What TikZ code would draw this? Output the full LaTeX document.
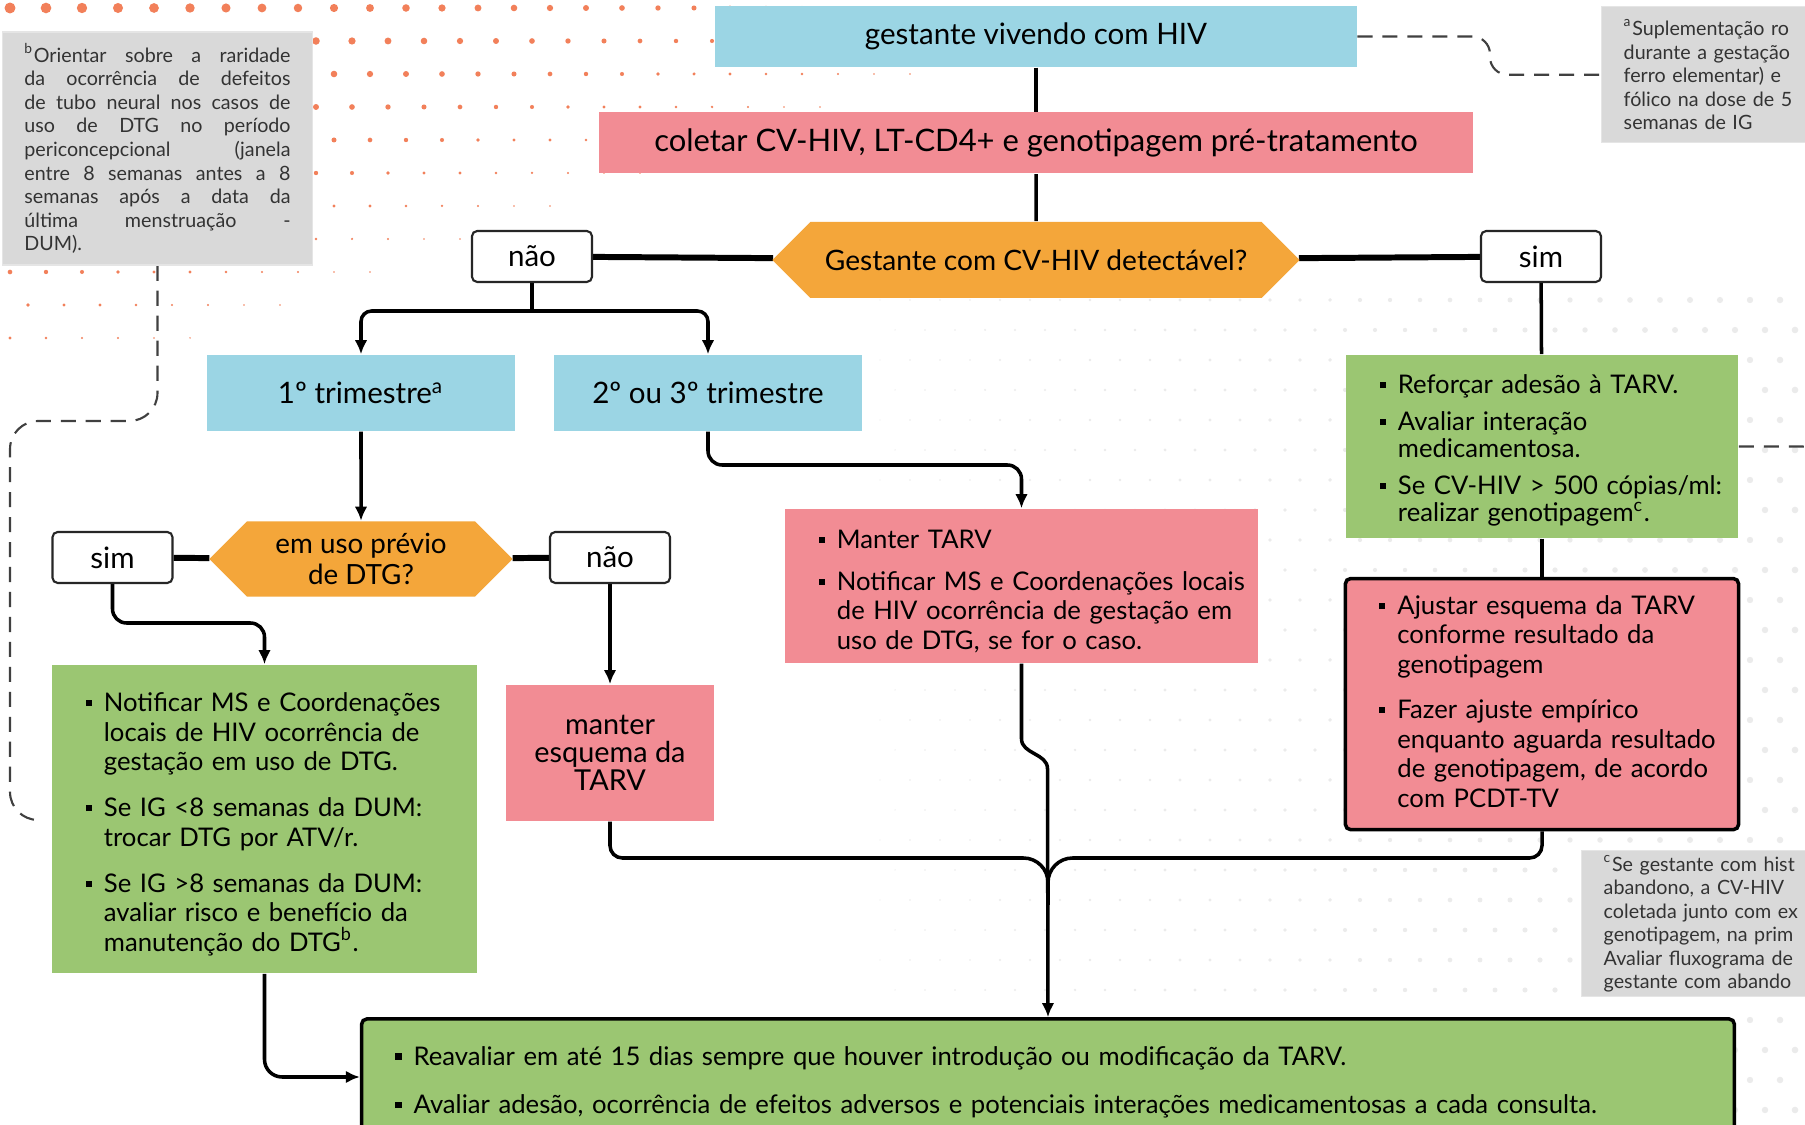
\documentclass[tikz,border=0pt]{standalone}
\usepackage{fontspec}
\setmainfont{Lato}
\usepackage{enumitem}
\usetikzlibrary{
arrows.meta,
backgrounds,
calc,
positioning,
shapes.symbols
}

\definecolor{fluxblue}{RGB}{155,213,228}
\definecolor{fluxpink}{RGB}{242,140,148}
\definecolor{fluxorange}{RGB}{244,166,58}
\definecolor{fluxgreen}{RGB}{155,198,114}
\definecolor{notegray}{RGB}{217,217,217}
\definecolor{dotorange}{RGB}{242,128,90}

\newcommand{\fluxhead}{\fontsize{8.4}{9.2}\selectfont}
\newcommand{\fluxbody}{\fontsize{7.3}{8.4}\selectfont}
\newcommand{\fluxnote}{\fontsize{5.6}{6.7}\selectfont}

\setlist[itemize]{label=\rule[0.22em]{0.24em}{0.24em},leftmargin=0.37cm,labelsep=0.12cm,topsep=0pt,partopsep=0pt,parsep=0pt,itemsep=4pt}

\tikzset{>={Latex[length=4pt,width=3.6pt]}}
\tikzset{
  blubox/.style={fill=fluxblue,font=\fluxhead,inner sep=0pt,minimum height=0.61cm,align=center},
  pinkhead/.style={fill=fluxpink,font=\fluxhead,inner sep=0pt,minimum height=0.61cm,align=center},
  hexbox/.style={shape=signal,signal to=west and east,signal pointer angle=90,fill=fluxorange,font=\fontsize{8}{9}\selectfont,inner sep=0pt,minimum height=0.76cm,align=center},
  answer/.style={draw=black!85,line width=0.6pt,fill=white,rounded corners=1.5pt,font=\fluxhead,minimum width=1.2cm,minimum height=0.51cm,inner sep=0pt},
  listbox/.style={font=\fluxbody,inner xsep=0.15cm,inner ysep=0pt,align=left},
  note/.style={fill=notegray,draw=black!10,font=\fluxnote,text=black!80,inner xsep=0.22cm,inner ysep=0pt},
  link/.style={line width=1pt},
  thicklink/.style={line width=1.7pt},
  notelink/.style={draw=black!75,line width=0.6pt,dash pattern=on 4.3pt off 2.8pt}
}

\begin{document}
\begin{tikzpicture}[x=0.01cm, y=-0.01cm, node distance=0.4cm]
	\useasboundingbox (0,0) rectangle (1805,1125);

	% topo
	\node[blubox,minimum width=6.41cm] (gestante) at (1036,36.5) {gestante vivendo com HIV};
	\node[pinkhead,font=\fontsize{8.8}{9.6}\selectfont,minimum width=8.74cm,below=0.44cm of gestante] (coleta) {coletar CV-HIV, LT-CD4+ e genotipagem pré-tratamento};
	\node[hexbox,minimum width=5.27cm,below=0.47cm of coleta] (cvdet) {Gestante com CV-HIV detectável?};
	\node[answer] (naocv) at (532,256.5) {não};
	\node[answer] (simcv) at (1541,256.5) {sim};

	% ramo nao
	\node[blubox,minimum width=3.08cm,minimum height=0.76cm] (tri1) at (361,393) {1º trimestre\textsuperscript{a}};
	\node[blubox,minimum width=3.07cm,minimum height=0.76cm] (tri23) at (708,393) {2º ou 3º trimestre};
	\node[hexbox,font=\fontsize{7.9}{9}\selectfont,minimum width=3.03cm,minimum height=0.75cm,below=0.89cm of tri1] (dtgprev) {em uso prévio\\de DTG?};
	\node[answer] (simdtg) at (112.5,557.5) {sim};
	\node[answer] (naodtg) at (610,557.5) {não};

	\node[listbox,fill=fluxgreen,text width=3.95cm,minimum height=3.08cm] (dtgsim) at (264.5,819) {%
		\begin{itemize}[itemsep=4.7pt]
		\item Notificar MS e Coordenações\newline locais de HIV ocorrência de\newline gestação em uso de DTG.
		\item Se IG <8 semanas da DUM:\newline trocar DTG por ATV/r.
		\item Se IG >8 semanas da DUM:\newline avaliar risco e benefício da\newline manutenção do DTG\textsuperscript{b}.
		\end{itemize}};
	\node[pinkhead,font=\fontsize{8.2}{7.9}\selectfont,minimum width=2.07cm,minimum height=1.36cm,below=1cm of naodtg] (manteresq) {manter\\esquema da\\TARV};
	\node[listbox,inner xsep=0.08cm,fill=fluxpink,text width=4.57cm,minimum height=1.54cm] (mantertarv) at (1021.5,586) {%
		\begin{itemize}[leftmargin=0.44cm,itemsep=3.5pt]
		\item Manter TARV
		\item Notificar MS e Coordenações locais\newline de HIV ocorrência de gestação em\newline uso de DTG, se for o caso.
		\end{itemize}};

	% ramo sim
	\node[listbox,font=\fontsize{7.3}{7.8}\selectfont,fill=fluxgreen,text width=3.62cm,minimum height=1.83cm] (reforcar) at (1542,446.5) {%
		\begin{itemize}[itemsep=2.6pt]
		\item Reforçar adesão à TARV.
		\item Avaliar interação\newline medicamentosa.
		\item Se CV-HIV > 500 cópias/ml:\newline realizar genotipagem\textsuperscript{c}.
		\end{itemize}};
	\node[listbox,fill=fluxpink,draw=black,line width=1pt,rounded corners=1.5pt,text width=3.63cm,minimum height=2.51cm,below=0.38cm of reforcar] (ajustar) {%
		\begin{itemize}[itemsep=4.4pt]
		\item Ajustar esquema da TARV\newline conforme resultado da\newline genotipagem
		\item Fazer ajuste empírico\newline enquanto aguarda resultado\newline de genotipagem, de acordo\newline com PCDT-TV
		\end{itemize}\par\nointerlineskip\vspace{0.16cm}\hbox{}};

	% final
	\node[listbox,fill=fluxgreen,draw=black,line width=1pt,rounded corners=1.5pt,text width=13.42cm,minimum height=1.16cm] (avaliar) at (1048,1077) {%
		\begin{itemize}[itemsep=5.4pt]
		\item Reavaliar em até 15 dias sempre que houver introdução ou modificação da TARV.
		\item Avaliar adesão, ocorrência de efeitos adversos e potenciais interações medicamentosas a cada consulta.
		\end{itemize}};

	% notas
	\node[note,text width=2.66cm,minimum height=2.33cm,align=justify] (notab) at (157.5,148.5) {\textsuperscript{b}Orientar sobre a raridade\linebreak da ocorrência de defeitos\linebreak de tubo neural nos casos de\linebreak uso de DTG no período\linebreak periconcepcional (janela\linebreak entre 8 semanas antes a 8\linebreak semanas após a data da\linebreak última menstruação -\linebreak DUM).};
	\node[note,anchor=north west,text width=2.6cm,minimum height=1.36cm,align=left] (notaa) at (1601,6) {\textsuperscript{a}Suplementação ro\\durante a gestação\\ferro elementar) e\\fólico na dose de 5\\semanas de IG};
	\node[note,anchor=north west,text width=2.6cm,minimum height=1.46cm,align=left] (notac) at (1581,850) {\textsuperscript{c}Se gestante com hist\\abandono, a CV-HIV\\coletada junto com ex\\genotipagem, na prim\\Avaliar fluxograma de\\gestante com abando};

	\coordinate (naosplit) at (532,311);
	\coordinate (simbend) at (190,623);
	\coordinate (trbend) at (850,465);
	\coordinate (mergeL) at (990,858);
	\coordinate (mergeR) at (1106,858);
	\coordinate (merge) at (1048,905);
	\coordinate (aturn) at (1490,36.5);
	\coordinate (bturn) at (10,421);
	\coordinate (bend) at (43,820);
	\coordinate (cend) at (1830,860);

	\begin{scope}[on background layer]
	\fill[white] (0,0) rectangle (1805,1125);
	% pontos de fundo
	\foreach \row in {0,...,10}{
		\foreach \col in {0,...,26}{
			\pgfmathsetmacro{\dotx}{\col*36+mod(\row,2)*18+10}
			\pgfmathsetmacro{\doty}{\row*33+8}
			\pgfmathsetmacro{\dotr}{1.6*(1-\dotx/1300-\doty/470)}
			\ifdim\dotr pt>0.2pt
				\fill[dotorange] (\dotx,\doty) circle[radius=\dotr pt];
			\fi
		}
	}
	\foreach \row in {0,...,27}{
		\foreach \col in {0,...,31}{
			\pgfmathsetmacro{\dotx}{\col*30+mod(\row,2)*15+880}
			\pgfmathsetmacro{\doty}{\row*30+300}
			\pgfmathsetmacro{\dotr}{0.2+0.75*(\dotx-880)/925}
			\fill[black!8] (\dotx,\doty) circle[radius=\dotr pt];
		}
	}

	% ligacoes
	\draw[link] (gestante) -- (coleta);
	\draw[link] (coleta) -- (cvdet);
	\draw[thicklink] (cvdet) -- (naocv);
	\draw[thicklink] (cvdet) -- (simcv);
	\draw[link] (naocv) -- (naosplit);
	\draw[link,->,rounded corners=3pt] (naosplit) -| (tri1);
	\draw[link,->,rounded corners=3pt] (naosplit) -| (tri23);
	\draw[link,->] (tri1) -- (dtgprev);
	\draw[thicklink] (dtgprev) -- (simdtg);
	\draw[thicklink] (dtgprev) -- (naodtg);
	\draw[link,->,rounded corners=4pt] (simdtg) |- (simbend) -| (dtgsim);
	\draw[link,->] (naodtg) -- (manteresq);
	\draw[link,->,rounded corners=4pt] (tri23) |- (trbend) -| (mantertarv);
	\draw[link] (simcv) -- (reforcar);
	\draw[link] (reforcar) -- (ajustar);
	\draw[link,->,rounded corners=5pt] (dtgsim) |- (avaliar);

	% juncao
	\draw[link,->] (mantertarv.south) -- ++(0,75) to[out=-90,in=90] ++(26,30) -- (avaliar.north);
	\draw[link,rounded corners=3.5pt] (manteresq) |- (mergeL);
	\draw[link,rounded corners=7pt] (mergeL) -- (mergeL -| merge) -- (merge);
	\draw[link,rounded corners=3.5pt] (ajustar) |- (mergeR);
	\draw[link,rounded corners=7pt] (mergeR) -- (mergeR -| merge) -- (merge);

	% notas
	\draw[notelink,rounded corners=5pt] (gestante) -- (aturn) |- (notaa);
	\draw[notelink,rounded corners=8pt] (notab) |- (bturn) |- (bend);
	\draw[notelink,rounded corners=8pt] (reforcar) -| (cend);
	\end{scope}
\end{tikzpicture}
\end{document}
